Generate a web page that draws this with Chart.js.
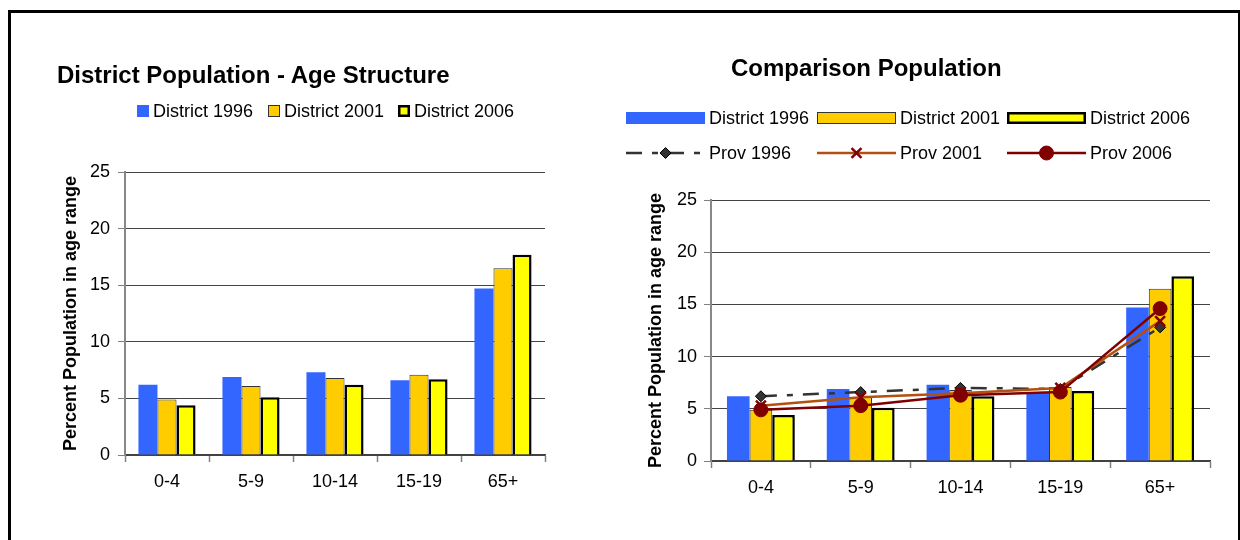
<!DOCTYPE html>
<html>
<head>
<meta charset="utf-8">
<title>District Population - Age Structure</title>
<script src="https://cdn.jsdelivr.net/npm/chart.js@4.4.0/dist/chart.umd.min.js"></script>
<style>
  body {
    margin: 0;
    width: 1240px;
    height: 540px;
    overflow: hidden;
    position: relative;
    background: #fff;
    font-family: 'Liberation Sans', Arial, sans-serif;
    color: #000;
  }
  .marc {
    position: absolute;
    left: 8px;
    top: 10px;
    width: 1232px;
    height: 600px;
    box-sizing: border-box;
    border-left: 3px solid #000;
    border-top: 3px solid #000;
    border-right: 2px solid #000;
  }
  .contenidor {
    position: absolute;
    top: 0;
    width: 620px;
    height: 540px;
  }
  .titol {
    position: absolute;
    font-size: 24px;
    font-weight: bold;
    line-height: 24px;
    white-space: nowrap;
  }
  .item {
    position: absolute;
    height: 22px;
    display: flex;
    align-items: center;
    font-size: 18px;
    white-space: nowrap;
  }
  .item canvas { display: block; }
</style>
</head>
<body>
<div class="marc"></div>

<div class="contenidor" style="left:0px"><canvas id="chartLeft" width="620" height="540"></canvas></div>
<div class="contenidor" style="left:620px"><canvas id="chartRight" width="620" height="540"></canvas></div>

<div class="titol" style="left:57px; top:63px">District Population - Age Structure</div>
<div class="titol" style="left:731px; top:56px">Comparison Population</div>
<div id="legendLeft"></div>
<div id="legendRight"></div>

<script>
// data
const categories = ['0-4', '5-9', '10-14', '15-19', '65+'];
const district1996 = [6.2, 6.9, 7.3, 6.6, 14.7];
const district2001 = [4.9, 6.1, 6.8, 7.1, 16.5];
const district2006 = [4.4, 5.1, 6.2, 6.7, 17.7];
const prov1996 = [6.2, 6.6, 7.0, 6.9, 12.8];
const prov2001 = [5.3, 6.1, 6.5, 7.0, 13.4];
const prov2006 = [4.9, 5.3, 6.3, 6.6, 14.6];
const yTicks = [0, 5, 10, 15, 20, 25];
const yTitle = 'Percent Population in age range';

Chart.defaults.font.family = "'Liberation Sans', Arial, sans-serif";
Chart.defaults.color = '#000';

const barSets = () => [
  { label: 'District 1996', data: district1996, backgroundColor: '#3366FF', borderWidth: 0, order: 4 },
  { label: 'District 2001', data: district2001, backgroundColor: '#FFCC00', borderColor: '#333333', borderWidth: 1, order: 4 },
  { label: 'District 2006', data: district2006, backgroundColor: '#FFFF00', borderColor: '#000000', borderWidth: 2.5, order: 4 }
];

const lineSets = () => [
  {
    type: 'line', label: 'Prov 1996', data: prov1996,
    borderColor: '#333333', borderWidth: 2.5, borderDash: [16, 10, 6, 10],
    pointStyle: 'rectRot', pointRadius: 5.5, pointBackgroundColor: '#333333',
    pointBorderColor: '#000000', pointBorderWidth: 1, order: 3
  },
  {
    type: 'line', label: 'Prov 2001', data: prov2001,
    borderColor: '#B4500F', borderWidth: 2.5,
    pointStyle: 'crossRot', pointRadius: 7, pointBackgroundColor: '#800000',
    pointBorderColor: '#800000', pointBorderWidth: 2.5, order: 2
  },
  {
    type: 'line', label: 'Prov 2006', data: prov2006,
    borderColor: '#800000', borderWidth: 2.5,
    pointStyle: 'circle', pointRadius: 7, pointBackgroundColor: '#800000',
    pointBorderColor: '#800000', pointBorderWidth: 1, order: 1
  }
];

const makeScales = (yWidth, tickPad) => ({
  x: {
    grid: { drawOnChartArea: false, drawTicks: true, tickLength: 7, tickColor: '#808080', tickWidth: 1.5, offset: true },
    border: { color: '#404040', width: 1.5 },
    ticks: { font: { size: 18 }, padding: 9 },
    afterFit: (scale) => { scale.height = 50; }
  },
  y: {
    min: yTicks[0],
    max: yTicks[yTicks.length - 1],
    ticks: { stepSize: yTicks[1] - yTicks[0], font: { size: 18 }, padding: tickPad },
    grid: { color: '#444444', tickColor: '#808080', tickLength: 7 },
    border: { color: '#888888', width: 2 },
    title: { display: true, text: yTitle, font: { size: 18, weight: 'bold' }, padding: { top: 4, bottom: 4 } },
    afterFit: (scale) => { scale.width = yWidth; }
  }
});

const makeChart = (id, datasets, padding, yWidth, tickPad) => {
  const ctx = document.getElementById(id).getContext('2d');
  return new Chart(ctx, {
    type: 'bar',
    data: { labels: categories, datasets: datasets },
    options: {
      responsive: false,
      animation: false,
      devicePixelRatio: 1,
      datasets: {
        bar: { categoryPercentage: 0.68, barPercentage: 1 },
        line: { tension: 0, fill: false }
      },
      layout: { padding: padding },
      plugins: { legend: { display: false }, title: { display: false }, tooltip: { enabled: false } },
      scales: makeScales(yWidth, tickPad)
    }
  });
};

const chartLeft = makeChart('chartLeft', barSets(), { left: 56, right: 75, top: 172, bottom: 35 }, 69, 8);
const chartRight = makeChart('chartRight', barSets().concat(lineSets()), { left: 21, right: 30, top: 200, bottom: 29 }, 70, 7);

// small legend symbols drawn from the dataset styles
const drawSymbol = (canvas, ds) => {
  const c = canvas.getContext('2d');
  const w = canvas.width;
  const h = canvas.height;
  if (ds.type === 'line') {
    c.strokeStyle = ds.borderColor;
    c.lineWidth = ds.borderWidth;
    c.setLineDash(ds.borderDash || []);
    c.beginPath();
    c.moveTo(0, h / 2);
    c.lineTo(w, h / 2);
    c.stroke();
    c.setLineDash([]);
    c.fillStyle = ds.pointBackgroundColor;
    c.strokeStyle = ds.pointBorderColor;
    c.lineWidth = ds.pointBorderWidth;
    Chart.helpers.drawPoint(c, { pointStyle: ds.pointStyle, radius: ds.pointRadius, rotation: 0, borderWidth: ds.pointBorderWidth }, w / 2, h / 2);
  } else {
    const bh = 12;
    const top = (h - bh) / 2;
    c.fillStyle = ds.backgroundColor;
    c.fillRect(0, top, w, bh);
    if (ds.borderWidth) {
      const b = ds.borderWidth;
      c.strokeStyle = ds.borderColor;
      c.lineWidth = b;
      c.strokeRect(b / 2, top + b / 2, w - b, bh - b);
    }
  }
};

const addItem = (parent, ds, x, yCenter, symW, gap) => {
  const div = document.createElement('div');
  div.className = 'item';
  div.style.left = `${x}px`;
  div.style.top = `${yCenter - 11}px`;
  const cv = document.createElement('canvas');
  cv.width = symW;
  cv.height = 18;
  drawSymbol(cv, ds);
  const span = document.createElement('span');
  span.textContent = ds.label;
  span.style.marginLeft = `${gap}px`;
  div.appendChild(cv);
  div.appendChild(span);
  parent.appendChild(div);
};

const leftLegend = document.getElementById('legendLeft');
const leftX = [137, 268, 398];
chartLeft.data.datasets.forEach((ds, i) => addItem(leftLegend, ds, leftX[i], 111, 12, 4));

const rightLegend = document.getElementById('legendRight');
const colX = [626, 817, 1007];
chartRight.data.datasets.forEach((ds, i) => {
  const row = i < 3 ? 118 : 153;
  addItem(rightLegend, ds, colX[i % 3], row, 79, 4);
});
</script>
</body>
</html>
